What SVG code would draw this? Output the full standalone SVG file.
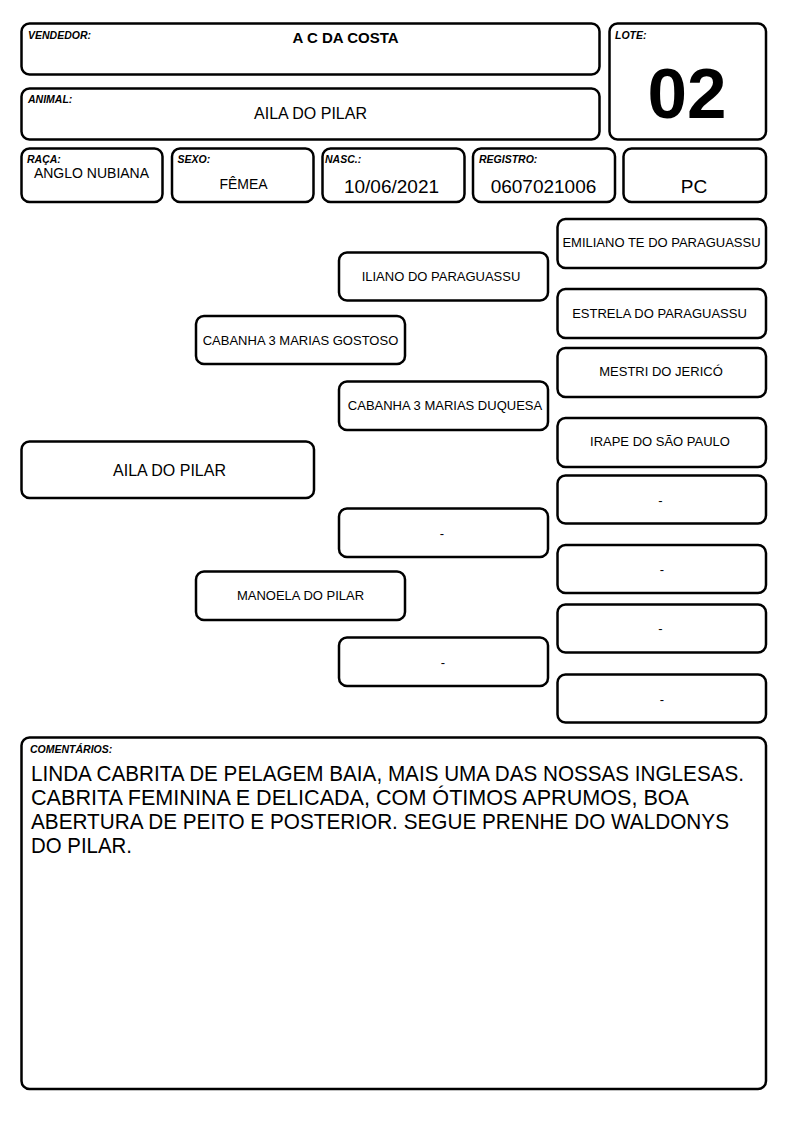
<svg xmlns="http://www.w3.org/2000/svg" width="794" height="1123" viewBox="0 0 794 1123">
<style>
  .box { fill: #fff; stroke: #000; stroke-width: 2.5; }
  .lbl { font-family: "Liberation Sans", Arial, sans-serif; font-size: 10.5px; font-weight: bold; font-style: italic; fill: #000; }
  .val { font-family: "Liberation Sans", Arial, sans-serif; fill: #000; text-anchor: middle; }
  .ped { font-family: "Liberation Sans", Arial, sans-serif; font-size: 13px; fill: #000; text-anchor: middle; }
  .cmt { font-family: "Liberation Sans", Arial, sans-serif; font-size: 22px; fill: #000; }
</style>
<rect width="794" height="1123" fill="#fff"/>

<g id="vendedor">
  <rect class="box" x="21.5" y="23.5" width="578" height="51" rx="8"/>
  <text class="lbl" x="28" y="38.5">VENDEDOR:</text>
  <text class="val" x="345.5" y="43" font-size="15" font-weight="bold">A C DA COSTA</text>
</g>
<g id="animal">
  <rect class="box" x="21.5" y="88.5" width="578" height="51" rx="8"/>
  <text class="lbl" x="28" y="103">ANIMAL:</text>
  <text class="val" x="310.5" y="119" font-size="16">AILA DO PILAR</text>
</g>
<g id="lote">
  <rect class="box" x="609.5" y="23.5" width="156.5" height="116" rx="8"/>
  <text class="lbl" x="615" y="38.5">LOTE:</text>
  <text class="val" x="687" y="118" font-size="71" font-weight="bold">02</text>
</g>
<g id="raca">
  <rect class="box" x="21.5" y="148.5" width="141" height="53.5" rx="8"/>
  <text class="lbl" x="27" y="163">RAÇA:</text>
  <text class="val" x="91.5" y="177.5" font-size="14">ANGLO NUBIANA</text>
</g>
<g id="sexo">
  <rect class="box" x="172" y="148.5" width="141.5" height="53.5" rx="8"/>
  <text class="lbl" x="177.5" y="163">SEXO:</text>
  <text class="val" x="243.5" y="189" font-size="14">FÊMEA</text>
</g>
<g id="nasc">
  <rect class="box" x="322.5" y="148.5" width="142" height="53.5" rx="8"/>
  <text class="lbl" x="325" y="163">NASC.:</text>
  <text class="val" x="391.5" y="192.5" font-size="19">10/06/2021</text>
</g>
<g id="registro">
  <rect class="box" x="473" y="148.5" width="142" height="53.5" rx="8"/>
  <text class="lbl" x="479" y="163">REGISTRO:</text>
  <text class="val" x="543.5" y="192.5" font-size="19">0607021006</text>
</g>
<g id="pc">
  <rect class="box" x="623.5" y="148.5" width="142.5" height="53.5" rx="8"/>
  <text class="val" x="694" y="193" font-size="19">PC</text>
</g>

<g id="connectors"></g>

<g id="animal-ped">
  <rect class="box" x="21.5" y="441.5" width="292.5" height="56.5" rx="8"/>
  <text class="val" x="169.5" y="475.5" font-size="16">AILA DO PILAR</text>
</g>

<g id="pai">
  <rect class="box" x="196" y="316" width="209" height="48" rx="8"/>
  <text class="ped" x="300.5" y="344.5">CABANHA 3 MARIAS GOSTOSO</text>
</g>
<g id="mae">
  <rect class="box" x="196" y="571.5" width="209" height="48.5" rx="8"/>
  <text class="ped" x="300.5" y="600">MANOELA DO PILAR</text>
</g>

<g id="avo-pp">
  <rect class="box" x="339" y="252.5" width="209" height="48" rx="8"/>
  <text class="ped" x="441" y="281">ILIANO DO PARAGUASSU</text>
</g>
<g id="avo-pm">
  <rect class="box" x="339" y="381.5" width="209" height="48.5" rx="8"/>
  <text class="ped" x="445" y="410">CABANHA 3 MARIAS DUQUESA</text>
</g>
<g id="avo-mp">
  <rect class="box" x="339" y="508.5" width="209" height="48.5" rx="8"/>
  <text class="ped" x="442" y="537.5">-</text>
</g>
<g id="avo-mm">
  <rect class="box" x="339" y="637.5" width="209" height="48.5" rx="8"/>
  <text class="ped" x="443" y="666.5">-</text>
</g>

<g id="bis-1">
  <rect class="box" x="557.5" y="219" width="208.5" height="49" rx="8"/>
  <text class="ped" x="661.5" y="247">EMILIANO TE DO PARAGUASSU</text>
</g>
<g id="bis-2">
  <rect class="box" x="557.5" y="289" width="208.5" height="49" rx="8"/>
  <text class="ped" x="659.5" y="318">ESTRELA DO PARAGUASSU</text>
</g>
<g id="bis-3">
  <rect class="box" x="557.5" y="348" width="208.5" height="49" rx="8"/>
  <text class="ped" x="661" y="376">MESTRI DO JERICÓ</text>
</g>
<g id="bis-4">
  <rect class="box" x="557.5" y="418" width="208.5" height="49" rx="8"/>
  <text class="ped" x="660" y="446">IRAPE DO SÃO PAULO</text>
</g>
<g id="bis-5">
  <rect class="box" x="557.5" y="475.5" width="208.5" height="48" rx="8"/>
  <text class="ped" x="660.5" y="504.5">-</text>
</g>
<g id="bis-6">
  <rect class="box" x="557.5" y="545" width="208.5" height="48" rx="8"/>
  <text class="ped" x="662" y="573.5">-</text>
</g>
<g id="bis-7">
  <rect class="box" x="557.5" y="604.5" width="208.5" height="48" rx="8"/>
  <text class="ped" x="660.5" y="632.5">-</text>
</g>
<g id="bis-8">
  <rect class="box" x="557.5" y="674.5" width="208.5" height="48" rx="8"/>
  <text class="ped" x="662" y="703.5">-</text>
</g>

<g id="comentarios">
  <rect class="box" x="21.5" y="737.5" width="744.5" height="351.5" rx="8"/>
  <text class="lbl" x="30" y="753">COMENTÁRIOS:</text>
  <text class="cmt" x="31" y="781" textLength="713" lengthAdjust="spacingAndGlyphs">LINDA CABRITA DE PELAGEM BAIA, MAIS UMA DAS NOSSAS INGLESAS.</text>
  <text class="cmt" x="31" y="805" textLength="658" lengthAdjust="spacingAndGlyphs">CABRITA FEMININA E DELICADA, COM ÓTIMOS APRUMOS, BOA</text>
  <text class="cmt" x="31" y="829" textLength="698" lengthAdjust="spacingAndGlyphs">ABERTURA DE PEITO E POSTERIOR. SEGUE PRENHE DO WALDONYS</text>
  <text class="cmt" x="31" y="853" textLength="101" lengthAdjust="spacingAndGlyphs">DO PILAR.</text>
</g>
</svg>
